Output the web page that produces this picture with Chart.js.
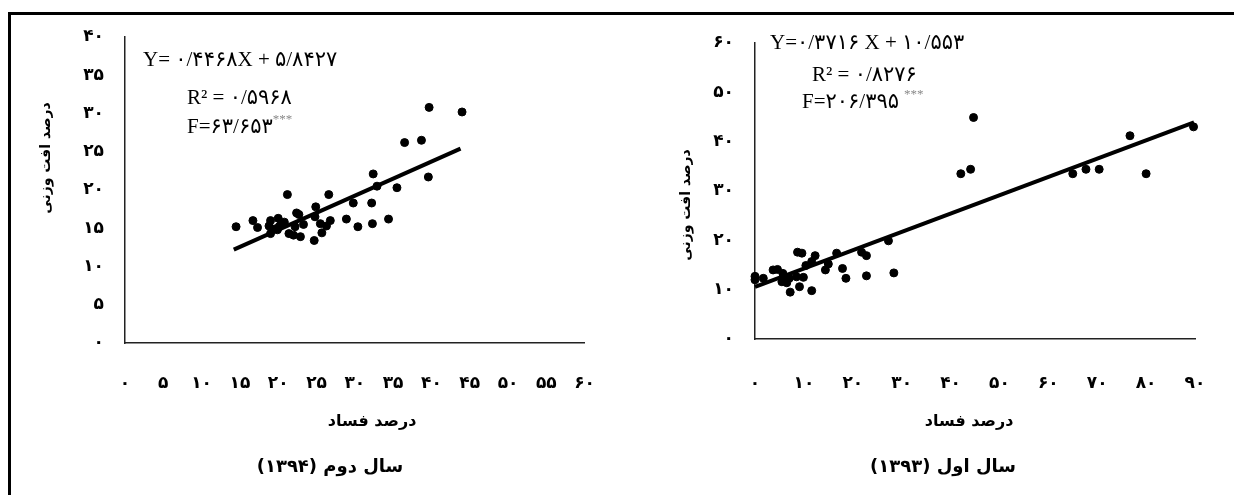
<!DOCTYPE html>
<html><head><meta charset="utf-8">
<script src="https://cdn.jsdelivr.net/npm/chart.js@4/dist/chart.umd.min.js"></script>
<style>
html,body{margin:0;padding:0;background:#fff;}
#wrap{position:relative;width:1234px;height:495px;overflow:hidden;background:#fff;}
.frame{position:absolute;left:8px;top:12px;width:1300px;height:600px;border-top:3px solid #000;border-left:3px solid #000;}
.nick{position:absolute;left:622px;top:13px;width:21px;height:2px;background:#000;}
canvas{position:absolute;top:0;}
</style></head><body>
<div id="wrap">
<div class="frame"></div>
<div class="nick"></div>
<canvas id="c1" width="617" height="495" style="left:0"></canvas>
<canvas id="c2" width="617" height="495" style="left:617px"></canvas>
</div>
<script>
// ---- data: second year (1394), left chart
const year2Spoil = [39.7,44.0,36.5,38.7,32.4,39.6,35.5,32.9,21.2,26.6,24.9,29.8,32.2,22.4,22.7,24.8,28.9,34.4,32.3,30.4,26.8,26.3,25.5,25.7,24.7,23.3,22.2,21.4,22.0,22.9,20.8,20.0,20.1,19.9,19.0,18.8,19.0,17.3,16.7,14.5,20.4,19.5];
const year2Loss  = [30.8,30.2,26.2,26.5,22.1,21.7,20.3,20.5,19.4,19.4,17.8,18.3,18.3,17.0,16.8,16.5,16.2,16.2,15.6,15.2,16.0,15.3,15.6,14.4,13.4,15.5,15.2,14.3,14.1,13.9,15.8,16.3,15.2,14.8,16.0,15.3,14.3,15.1,16.0,15.2,15.6,14.9];
const year2TrendX = [14.2, 43.8];
const year2TrendY = [12.2, 25.4];
// ---- data: first year (1393), right chart
const year1Spoil = [44.7,42.1,44.1,65.0,67.7,70.4,76.7,80.0,89.7,0,0,1.7,3.7,4.6,5.7,5.5,6.5,7.0,7.2,8.7,9.6,9.1,9.9,8.5,10.4,11.6,11.6,12.3,14.4,15.0,16.7,17.9,18.6,21.8,22.8,22.8,27.3,28.4,6.1];
const year1Loss  = [44.9,33.5,34.4,33.5,34.4,34.4,41.2,33.5,43.0,12.7,12.0,12.3,14.0,14.1,13.3,11.6,11.4,12.3,9.5,17.6,17.4,10.6,12.5,12.6,14.9,9.8,15.7,16.9,14.0,15.2,17.4,14.3,12.3,17.6,16.9,12.8,19.9,13.4,12.1];
const year1TrendX = [0, 89.8];
const year1TrendY = [10.55, 43.9];
// ---- axis ranges / texts
const leftXRange = [0, 60, 5];
const leftYRange = [0, 40, 5];
const rightXRange = [0, 90, 10];
const rightYRange = [0, 60, 10];
const xTitleText = 'درصد فساد';
const yTitleText = 'درصد افت وزنی';
const leftCaption = 'سال دوم (۱۳۹۴)';
const rightCaption = 'سال اول (۱۳۹۳)';
const leftEq = ['Y= ۰/۴۴۶۸X + ۵/۸۴۲۷', 'R² = ۰/۵۹۶۸', 'F=۶۳/۶۵۳'];
const rightEq = ['Y=۰/۳۷۱۶ X + ۱۰/۵۵۳', 'R² = ۰/۸۲۷۶', 'F=۲۰۶/۳۹۵'];

const fa = v => String(v).replace(/\d/g, d => '۰۱۲۳۴۵۶۷۸۹'[d]);
const pts = (xs, ys) => xs.map((x, i) => ({x, y: ys[i]}));

const textPlugin = {
  id: 'texts',
  afterDraw(chart, args, o) {
    const ctx = chart.ctx;
    ctx.save();
    ctx.fillStyle = '#000';
    ctx.textBaseline = 'middle';
    ctx.direction = 'ltr';
    ctx.textAlign = 'left';
    o.eq.forEach(e => {
      ctx.font = '21px "Liberation Serif", "DejaVu Sans"';
      ctx.fillStyle = '#000';
      ctx.fillText(e.t, e.x, e.y);
      if (e.sup) {
        const w = ctx.measureText(e.t).width;
        ctx.font = '13px "Liberation Serif"';
        ctx.fillStyle = '#888';
        ctx.fillText(e.sup, e.x + w + (e.gap || 0), e.y - 7);
      }
    });
    ctx.fillStyle = '#000';
    ctx.direction = 'rtl';
    ctx.textAlign = 'center';
    ctx.font = 'bold 16px "DejaVu Sans"';
    ctx.fillText(o.xTitle.t, o.xTitle.x, o.xTitle.y);
    ctx.font = 'bold 18px "DejaVu Sans"';
    ctx.fillText(o.caption.t, o.caption.x, o.caption.y);
    ctx.font = 'bold 14px "DejaVu Sans"';
    ctx.translate(o.yTitle.x, o.yTitle.y);
    ctx.rotate(-Math.PI / 2);
    ctx.fillText(o.yTitle.t, 0, 0);
    ctx.restore();
  }
};

function makeChart(id, sx, sy, tx, ty, xr, yr, layout, texts) {
  const tickFont = {family: '"DejaVu Sans"', size: 17, weight: 'bold'};
  return new Chart(document.getElementById(id), {
    type: 'scatter',
    data: {
      datasets: [
        {type: 'scatter', data: pts(sx, sy), backgroundColor: '#000', borderColor: '#000', pointRadius: 4, pointHoverRadius: 4, clip: false},
        {type: 'line', data: pts(tx, ty), borderColor: '#000', borderWidth: 4, pointRadius: 0, fill: false, clip: false}
      ]
    },
    options: {
      responsive: false, animation: false, devicePixelRatio: 1,
      layout: {padding: layout.padding},
      plugins: {legend: {display: false}, tooltip: {enabled: false}, texts},
      scales: {
        x: {
          type: 'linear', min: xr[0], max: xr[1],
          grid: {display: false},
          border: {display: true, color: '#222', width: 1.5},
          ticks: {stepSize: xr[2], color: '#000', font: tickFont, padding: layout.xPad, maxRotation: 0, autoSkip: false, callback: v => fa(v)},
          afterFit: s => { s.height = layout.xH; }
        },
        y: {
          type: 'linear', min: yr[0], max: yr[1],
          grid: {display: false},
          border: {display: true, color: '#222', width: 1.5},
          ticks: {stepSize: yr[2], color: '#000', font: tickFont, padding: layout.yPad, autoSkip: false, callback: v => fa(v)},
          afterFit: s => { s.width = layout.yW; }
        }
      }
    },
    plugins: [textPlugin]
  });
}

makeChart('c1', year2Spoil, year2Loss, year2TrendX, year2TrendY, leftXRange, leftYRange,
  {padding: {left: 0, right: 29, top: 37, bottom: 0}, xH: 152, yW: 125, xPad: 22, yPad: 13},
  {
    eq: [{t: leftEq[0], x: 143, y: 60}, {t: leftEq[1], x: 187, y: 98}, {t: leftEq[2], x: 187, y: 127, sup: '***'}],
    xTitle: {t: xTitleText, x: 372, y: 422},
    caption: {t: leftCaption, x: 330, y: 467},
    yTitle: {t: yTitleText, x: 46, y: 158}
  });

makeChart('c2', year1Spoil, year1Loss, year1TrendX, year1TrendY, rightXRange, rightYRange,
  {padding: {left: 0, right: 39, top: 43, bottom: 0}, xH: 156, yW: 138, xPad: 26, yPad: 13},
  {
    eq: [{t: rightEq[0], x: 153, y: 43}, {t: rightEq[1], x: 195, y: 75}, {t: rightEq[2], x: 185, y: 102, sup: '***', gap: 5}],
    xTitle: {t: xTitleText, x: 352, y: 422},
    caption: {t: rightCaption, x: 326, y: 467},
    yTitle: {t: yTitleText, x: 69, y: 205}
  });
</script>
</body></html>
